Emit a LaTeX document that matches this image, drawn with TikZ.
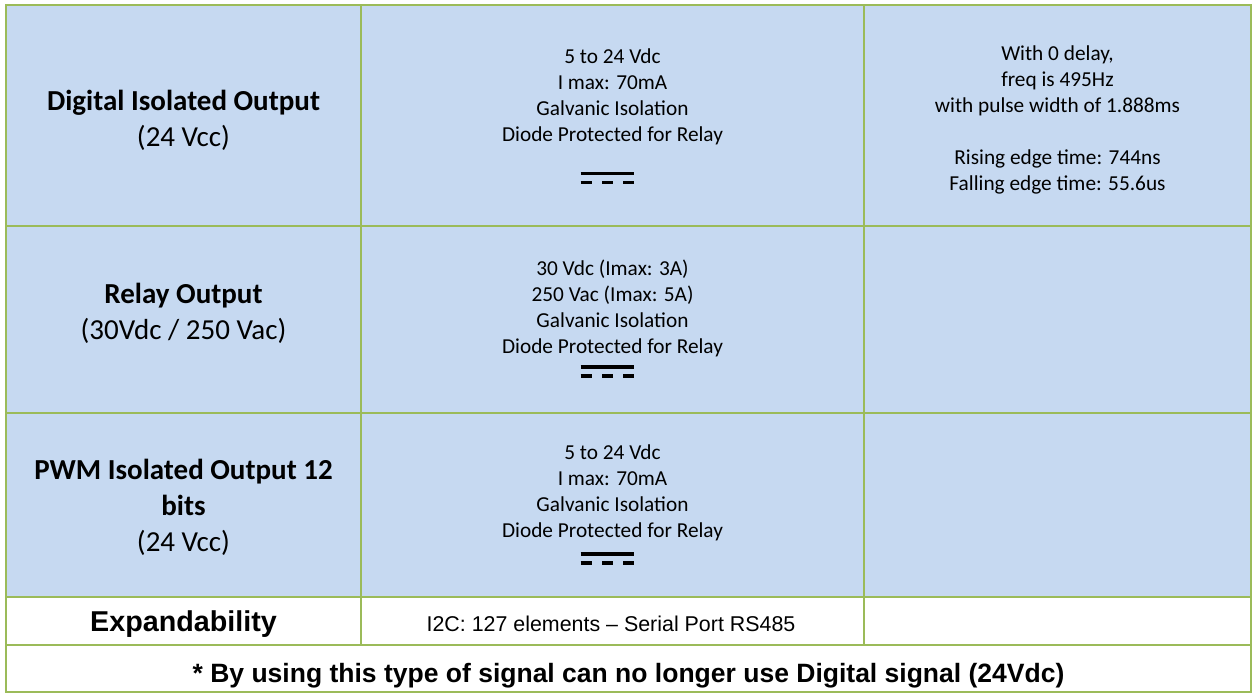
\documentclass[tikz,border=0pt]{standalone}
\usepackage{fontspec}
\setmainfont{Carlito}
\newfontfamily\arialfont{Liberation Sans}
\definecolor{gridgreen}{HTML}{9BBB59}
\definecolor{cellblue}{HTML}{C6D9F1}
\tikzset{
  grid/.style = {draw=gridgreen, line width=2.2pt},
  rowhead/.style = {font=\bfseries\fontsize{29}{36}\selectfont, align=center, anchor=base, inner sep=0pt},
  spec/.style = {font=\fontsize{21.3}{26}\selectfont, align=center, anchor=base, inner sep=0pt},
  dcsign/.style = {line width=3.6pt}
}

\begin{document}
\begin{tikzpicture}[x=1pt,y=-1pt]
  \useasboundingbox[fill=white] (0,0) rectangle (1252,693);
  \fill[cellblue] (6,5) rectangle (1251,597);
  % grid of the table
  \draw[grid] (6,5) rectangle (1251,692);
  \foreach \y in {226,413,597,645}
    \draw[grid] (6,\y) -- (1251,\y);
  \foreach \x in {361,864}
    \draw[grid] (\x,5) -- (\x,645);
  % row heads (placed on the baseline of their last line)
  \node[rowhead] (digital) at (183.5,146.7) {Digital Isolated Output\\{\mdseries (24 Vcc)}};
  \node[rowhead] (relay)   at (183.5,339)   {Relay Output\\{\mdseries (30Vdc / 250 Vac)}};
  \node[rowhead] (pwm)     at (183.5,551.7) {PWM Isolated Output 12\\bits\\{\mdseries (24 Vcc)}};
  %
  \node[spec] (digitalspec) at (612.5,141) {5 to 24 Vdc\\I max: 70mA\\Galvanic Isolation\\Diode Protected for Relay};
  \node[spec] (relayspec)   at (612.5,353) {30 Vdc (Imax: 3A)\\250 Vac (Imax: 5A)\\Galvanic Isolation\\Diode Protected for Relay};
  \node[spec] (pwmspec)     at (612.5,537) {5 to 24 Vdc\\I max: 70mA\\Galvanic Isolation\\Diode Protected for Relay};
  \node[spec] (timing)      at (1057.5,190) {With 0 delay,\\freq is 495Hz\\with pulse width of 1.888ms\\[26pt]Rising edge time: 744ns\\Falling edge time: 55.6us};
  %
  \foreach \y in {173.3,366.7,554} {
    \draw[dcsign] (580.7,\y) -- (634.3,\y);
    \draw[dcsign, dash pattern=on 11pt off 10.3pt] (580.7,\y+9) -- (634.3,\y+9);
  }
  %
  \node[anchor=base, inner sep=0pt, font=\arialfont\bfseries\fontsize{28.7}{34}\selectfont] (expand) at (183.5,631.7) {Expandability};
  \node[anchor=base, inner sep=0pt, font=\arialfont\fontsize{21.4}{26}\selectfont] (expandspec) at (611,631) {I2C: 127 elements – Serial Port RS485};
  \node[anchor=base, inner sep=0pt, font=\arialfont\bfseries\fontsize{26.5}{32}\selectfont] (footnote) at (628.5,682.3) {* By using this type of signal can no longer use Digital signal (24Vdc)};
\end{tikzpicture}
\end{document}
